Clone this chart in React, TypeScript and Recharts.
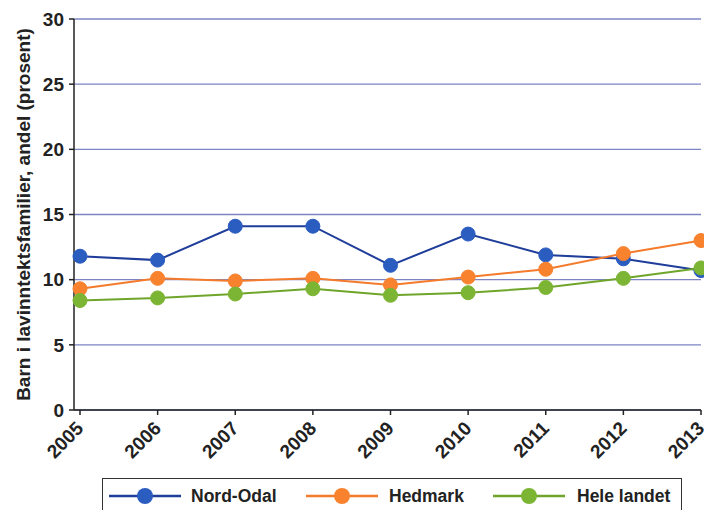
import { LineChart, Line, XAxis, YAxis, CartesianGrid, Label } from "recharts";

const years = ["2005", "2006", "2007", "2008", "2009", "2010", "2011", "2012", "2013"];
const nordOdal = [11.8, 11.5, 14.1, 14.1, 11.1, 13.5, 11.9, 11.6, 10.7];
const hedmark = [9.3, 10.1, 9.9, 10.1, 9.6, 10.2, 10.8, 12.0, 13.0];
const heleLandet = [8.4, 8.6, 8.9, 9.3, 8.8, 9.0, 9.4, 10.1, 10.9];
const yTicks = [0, 5, 10, 15, 20, 25, 30];

const series = [
  { key: "nordOdal", name: "Nord-Odal", line: "#1f3d9a", dot: "#2b5cbf" },
  { key: "hedmark", name: "Hedmark", line: "#f47a2c", dot: "#f9822f" },
  { key: "heleLandet", name: "Hele landet", line: "#6fa52a", dot: "#7cb534" },
];

const data = years.map((year, i) => ({
  year,
  nordOdal: nordOdal[i],
  hedmark: hedmark[i],
  heleLandet: heleLandet[i],
}));

const font = "'Liberation Sans', Arial, sans-serif";

// legend item positions (line start, text start) in page pixels
const legendLine = [109, 306, 493];
const legendText = [191, 389, 577];

function XTick(props: any) {
  const { x, y, payload } = props;
  return (
    <g transform={`translate(${x + 1},${y + 9})`}>
      <text
        transform="rotate(-45)"
        textAnchor="end"
        dominantBaseline="middle"
        fontSize={19}
        fontWeight="bold"
        fill="#222"
        fontFamily={font}
      >
        {payload.value}
      </text>
    </g>
  );
}

export default function App() {
  return (
    <div
      style={{
        position: "fixed",
        left: 0,
        top: 0,
        width: 704,
        height: 510,
        overflow: "hidden",
        background: "#ffffff",
        fontFamily: font,
      }}
    >
      <LineChart
        width={704}
        height={510}
        data={data}
        margin={{ top: 19, right: 3, left: 28, bottom: 40 }}
      >
        <CartesianGrid vertical={false} stroke="#7c84c4" strokeWidth={1.3} />
        <XAxis
          dataKey="year"
          height={60}
          padding={{ left: 6, right: 0 }}
          interval={0}
          tick={<XTick />}
          tickSize={5}
          stroke="#222"
          strokeWidth={1.5}
        />
        <YAxis
          width={46}
          domain={[0, 30]}
          ticks={yTicks}
          interval={0}
          tickSize={5}
          tickMargin={5}
          stroke="#222"
          strokeWidth={1.5}
          tick={{ fontSize: 19, fontWeight: "bold", fill: "#222", fontFamily: font }}
        >
          <Label
            value="Barn i lavinntektsfamilier, andel (prosent)"
            angle={-90}
            position="insideLeft"
            dx={-10}
            style={{ fontSize: 19, fontWeight: "bold", fill: "#222", fontFamily: font, textAnchor: "middle" }}
          />
        </YAxis>
        {series.map((s) => (
          <Line
            key={s.key}
            dataKey={s.key}
            name={s.name}
            stroke={s.line}
            strokeWidth={2}
            dot={{ r: 7, fill: s.dot, stroke: s.dot, strokeWidth: 1 }}
            isAnimationActive={false}
          />
        ))}
      </LineChart>
      <div
        style={{
          position: "absolute",
          left: 102,
          top: 478,
          width: 580,
          height: 44,
          border: "1.5px solid #333",
          boxSizing: "border-box",
          background: "#fff",
        }}
      />
      {series.map((s, i) => (
        <div key={s.key}>
          <svg
            width={72}
            height={20}
            style={{ position: "absolute", left: legendLine[i], top: 486 }}
          >
            <line x1={0} y1={10} x2={72} y2={10} stroke={s.line} strokeWidth={2.5} />
            <circle cx={36} cy={10} r={8} fill={s.dot} />
          </svg>
          <span
            style={{
              position: "absolute",
              left: legendText[i],
              top: 485,
              lineHeight: "22px",
              fontSize: 17.5,
              fontWeight: "bold",
              color: "#222",
            }}
          >
            {s.name}
          </span>
        </div>
      ))}
    </div>
  );
}
